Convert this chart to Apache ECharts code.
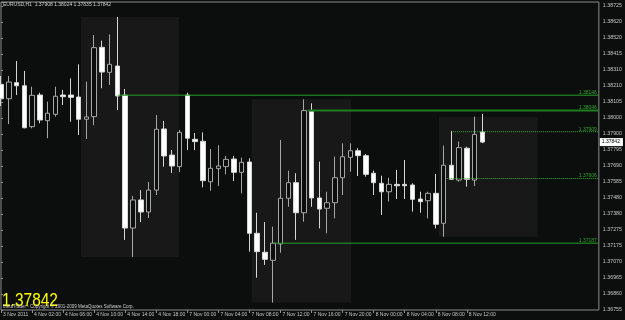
<!DOCTYPE html>
<html>
<head>
<meta charset="utf-8">
<script src="https://cdn.jsdelivr.net/npm/echarts@6/dist/echarts.min.js"></script>
<style>
html,body{margin:0;padding:0;background:#0c0d0d;}
#c{width:625px;height:320px;}
</style>
</head>
<body>
<div id="c"></div>
<script>
// ---- data (EURUSD H1) ----
const openP = [1.38216,1.38123,1.38227,1.38207,1.37942,1.38147,1.37981,1.38022,1.38147,1.38147,
  1.38134,1.37990,1.38007,1.38456,1.38294,1.38335,1.38146,1.37285,1.37467,1.37389,
  1.37531,1.37927,1.37758,1.37683,1.38147,1.37860,1.37847,1.37585,1.37670,1.37683,
  1.37732,1.37646,1.37713,1.37251,1.37128,1.37076,1.37182,1.37478,1.37579,1.37384,
  1.38040,1.37480,1.37413,1.37449,1.37611,1.37743,1.37786,1.37754,1.37640,1.37575,
  1.37520,1.37568,1.37568,1.37564,1.37473,1.37462,1.37510,1.37316,1.37692,1.37596,
  1.37802,1.37596,1.37908];
const closeP = [1.38123,1.38231,1.38207,1.37935,1.38145,1.37985,1.38029,1.38139,1.38136,1.38132,
  1.37990,1.38005,1.38454,1.38296,1.38346,1.38141,1.37285,1.37467,1.37389,1.37531,
  1.37925,1.37752,1.37687,1.37905,1.37867,1.37845,1.37592,1.37672,1.37687,1.37730,
  1.37646,1.37711,1.37251,1.37132,1.37082,1.37187,1.37478,1.37579,1.37384,1.38046,
  1.37480,1.37408,1.37449,1.37611,1.37747,1.37786,1.37754,1.37633,1.37579,1.37520,
  1.37568,1.37559,1.37559,1.37471,1.37456,1.37510,1.37309,1.37692,1.37601,1.37806,
  1.37601,1.37892,1.37842];
const lowP = [1.38076,1.37959,1.38147,1.37931,1.37931,1.37964,1.37867,1.38007,1.38082,1.37974,
  1.37888,1.37862,1.37951,1.38191,1.38212,1.38050,1.37208,1.37097,1.37324,1.37350,
  1.37499,1.37683,1.37642,1.37648,1.37791,1.37791,1.37549,1.37527,1.37558,1.37633,
  1.37590,1.37510,1.37132,1.36963,1.37046,1.36802,1.37125,1.37423,1.37208,1.37326,
  1.37423,1.37283,1.37251,1.37348,1.37499,1.37650,1.37622,1.37618,1.37499,1.37370,
  1.37456,1.37473,1.37473,1.37391,1.37384,1.37348,1.37283,1.37229,1.37596,1.37585,
  1.37553,1.37558,1.37835];
const highP = [1.38270,1.38270,1.38367,1.38303,1.38201,1.38162,1.38104,1.38201,1.38180,1.38255,
  1.38346,1.38233,1.38536,1.38499,1.38540,1.38653,1.38186,1.37493,1.37531,1.37583,
  1.38018,1.37979,1.37791,1.37920,1.38162,1.37901,1.37905,1.37797,1.37821,1.37752,
  1.37752,1.37741,1.37737,1.37384,1.37324,1.37294,1.37856,1.37657,1.37640,1.38119,
  1.38093,1.37715,1.37520,1.37747,1.37834,1.37834,1.37802,1.37765,1.37657,1.37624,
  1.37611,1.37661,1.37726,1.37575,1.37520,1.37520,1.37635,1.37819,1.37914,1.37845,
  1.37812,1.38007,1.38024];

// time axis tick labels (bar index -> label)
const tickBars = [0,4,8,12,16,20,24,28,32,36,40,44,48,52,56,60];
const tickLabels = ['3 Nov 2011','4 Nov 02:00','4 Nov 06:00','4 Nov 10:00','4 Nov 14:00','4 Nov 18:00',
  '7 Nov 00:00','7 Nov 04:00','7 Nov 08:00','7 Nov 12:00','7 Nov 16:00','7 Nov 20:00',
  '8 Nov 00:00','8 Nov 04:00','8 Nov 08:00','8 Nov 12:00'];
const totalSlots = 78; // bars plus empty chart shift space

// price axis labels (bottom to top)
const priceLabels = ['1.36755','1.36860','1.36965','1.37070','1.37175','1.37275','1.37380','1.37480',
  '1.37585','1.37690','1.37795','1.37900','1.38000','1.38105','1.38210','1.38310','1.38415','1.38520',
  '1.38620','1.38725'];
const yInterval = 0.0010368;
const yMin = 1319 * yInterval;
const yMax = 1.3874976;

// horizontal levels
const levelPrices = [1.38146, 1.38046, 1.37909, 1.37606, 1.37187];
const levelStartBar = [15.1, 39.5, 58.2, 57.4, 35.2];
const levelDotted = [false, false, true, true, false];

// session boxes
const boxStart = [10.3, 32.3, 56.4];
const boxEnd = [22.9, 45.1, 69.1];
const boxHigh = [1.38653, 1.38119, 1.38005];
const boxLow = [1.37097, 1.36802, 1.37229];

const symbolName = 'EURUSD,H1';
const lastPrice = 1.37842;

// ---- build ----
const categories = [];
for (let i = 0; i < totalSlots; i++) categories.push(String(i));
const tickMap = {};
tickBars.forEach((b, i) => { tickMap[b] = tickLabels[i]; });
const candleData = openP.map((o, i) => [o, closeP[i], lowP[i], highP[i]]);
const n = openP.length;

const FONT = 'Liberation Sans';
const green = '#2ea52e';

const levelColor = (i) => levelDotted[i] ? '#34b034' : (i === 1 ? '#1f7f1f' : '#25a025');
const levelSeries = levelPrices.map((p, i) => ({
  type: 'line', xAxisIndex: 1, yAxisIndex: 0, z: 5, silent: true,
  data: [[levelStartBar[i], p], [totalSlots - 1, p]],
  symbol: 'none', showSymbol: false,
  color: levelColor(i),
  lineStyle: { color: levelColor(i), width: i === 1 ? 2 : 1, type: levelDotted[i] ? 'dotted' : 'solid', opacity: 1 },
  emphasis: { disabled: true },
  endLabel: { show: true, formatter: p.toFixed(5), color: green, fontSize: 5, fontFamily: FONT,
              align: 'right', verticalAlign: 'bottom', distance: 0, offset: [-2, 0] }
}));

const priceSeries = {
  type: 'line', xAxisIndex: 1, yAxisIndex: 0, data: [], z: 6, silent: true,
  markLine: {
    silent: true, symbol: ['none', 'none'], animation: false,
    lineStyle: { color: 'rgba(0,0,0,0)', width: 0 },
    label: { show: true, position: 'end', formatter: lastPrice.toFixed(5), color: '#000',
             backgroundColor: '#ffffff', fontSize: 5, fontFamily: FONT, padding: [2, 3, 1, 2], distance: 1 },
    data: [[{ coord: [0, lastPrice] }, { coord: [totalSlots - 1, lastPrice] }]]
  }
};

const areaData = boxStart.map((s, i) => [
  { coord: [s, boxHigh[i]] }, { coord: [boxEnd[i], boxLow[i]] }
]);

const chart = echarts.init(document.getElementById('c'), null, { renderer: 'canvas' });
chart.setOption({
  animation: false,
  backgroundColor: '#0c0d0d',
  grid: { left: 1, right: 19, top: 2, bottom: 10, show: true, borderColor: '#8c8c8c', borderWidth: 1, backgroundColor: 'transparent' },
  xAxis: [{
    type: 'category', data: categories, boundaryGap: false, gridIndex: 0,
    axisLine: { show: false },
    axisTick: { show: true, length: 3, lineStyle: { color: '#8c8c8c' },
                interval: (idx) => tickMap[idx] !== undefined },
    axisLabel: { show: true, interval: (idx) => tickMap[idx] !== undefined,
                 formatter: (v, idx) => tickMap[idx] || '', align: 'left', margin: 2,
                 padding: [0, 0, 0, 2], color: '#c4c4c4', fontSize: 5, fontFamily: FONT },
    splitLine: { show: false }
  }, {
    type: 'value', min: 0, max: totalSlots - 1, show: false, gridIndex: 0
  }],
  yAxis: [{
    type: 'value', position: 'right', min: yMin, max: yMax, interval: yInterval, scale: true,
    axisLine: { show: false },
    axisTick: { show: true, length: 2, lineStyle: { color: '#8c8c8c' } },
    axisLabel: { show: true, margin: 4, color: '#c4c4c4', fontSize: 5.3, fontFamily: FONT,
      showMinLabel: true, showMaxLabel: true,
      formatter: (v) => {
        const r = (v - yMin) / yInterval;
        const k = Math.round(r);
        if (Math.abs(r - k) > 0.02 || k < 0 || k >= priceLabels.length) return '';
        return priceLabels[k];
      } },
    splitLine: { show: false }
  }],
  series: [{
    type: 'line', xAxisIndex: 1, yAxisIndex: 0, data: [], z: 1, silent: true,
    markArea: { silent: true, itemStyle: { color: '#181818' }, data: areaData }
  }, {
    type: 'candlestick', xAxisIndex: 0, yAxisIndex: 0, z: 3,
    data: candleData, barWidth: 5,
    itemStyle: { color: '#0c0d0d', color0: '#ffffff', borderColor: '#a6a6a6', borderColor0: '#d6d6d6', borderWidth: 1 }
  }].concat(levelSeries, [priceSeries]),
  graphic: [
    { type: 'text', left: 3, top: 2, z: 10,
      style: { text: symbolName + '  ' + [openP[n-1], highP[n-1], lowP[n-1], closeP[n-1]].map(v => v.toFixed(5)).join(' '),
               fill: '#d0d0d0', font: '5px "' + FONT + '"' } },
    { type: 'text', left: 2, top: 292, z: 10, scaleX: 0.86,
      style: { text: lastPrice.toFixed(5), fill: '#ffff00', font: '18px "' + FONT + '"' } },
    { type: 'text', left: 3, top: 304, z: 11,
      style: { text: 'MetaTrader - Copyright \u00a9 2001-2009 MetaQuotes Software Corp.', fill: '#d0d0d0', font: '4.5px "' + FONT + '"' } }
  ]
});
</script>
</body>
</html>
